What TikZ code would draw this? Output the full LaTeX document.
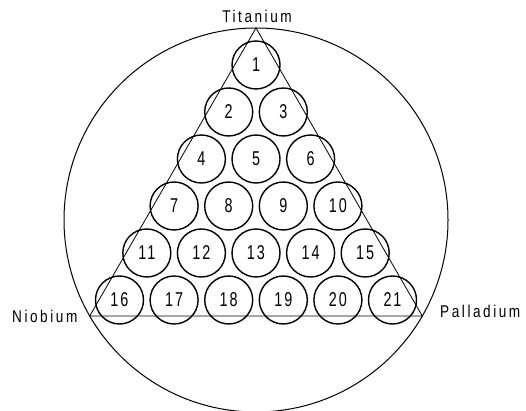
\documentclass[tikz,border=0pt]{standalone}
\usepackage{fontspec}
\newfontfamily\plotfont[FakeStretch=0.8,LetterSpace=15]{Liberation Sans}
\newfontfamily\numfont[FakeStretch=0.72,LetterSpace=10]{Liberation Sans}
\begin{document}
\begin{tikzpicture}[x=1pt,y=-1pt,
  ball/.style={draw,circle,line width=1.4pt,minimum size=48pt,inner sep=0pt,
    font=\numfont\fontsize{20}{20}\selectfont},
  plate/.style={draw,circle,line width=1pt,minimum size=384pt,inner sep=0pt},
  edge/.style={line width=0.8pt},
  lbl/.style={font=\plotfont\fontsize{17}{17}\selectfont,inner sep=0pt}]
\useasboundingbox (0,0) rectangle (526,411);
\node[plate] (plate) at (256,220) {};
\coordinate (ti) at (256,28);
\coordinate (nb) at (89.7,316);
\coordinate (pd) at (422.3,316);
\draw[edge] (ti) -- (nb) -- (pd) -- cycle;
\foreach \r in {0,...,5}{
  \foreach \k in {0,...,\r}{
    \pgfmathtruncatemacro{\n}{\r*(\r+1)/2+\k+1}
    \node[ball] (c\n) at ({256+(\k-\r/2)*54.6},{65+\r*47}) {\n};
  }
}
\node[lbl,anchor=base] (titanium) at (257,23) {Titanium};
\node[lbl,anchor=base west] (niobium) at (12,322) {Niobium};
\node[lbl,anchor=base west] (palladium) at (440,317) {Palladium};
\end{tikzpicture}
\end{document}
